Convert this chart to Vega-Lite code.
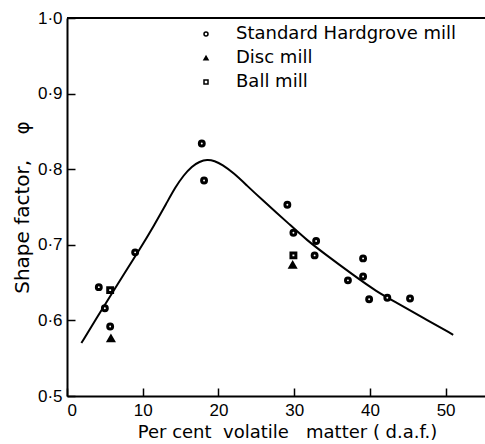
{
  "$schema": "https://vega.github.io/schema/vega-lite/v6.json",
  "width": 418,
  "height": 378,
  "autosize": "none",
  "padding": {"left": 67, "top": 18, "right": 0, "bottom": 48},
  "background": "white",
  "config": {
    "view": {"stroke": null},
    "font": "DejaVu Sans",
    "axis": {
      "domainColor": "black", "domainWidth": 2, "tickColor": "black", "tickWidth": 1.5,
      "labelColor": "black", "titleColor": "black", "labelFont": "Liberation Sans",
      "titleFont": "DejaVu Sans", "labelFontSize": 17, "titleFontWeight": "normal", "grid": false
    }
  },
  "datasets": {
    "pts": [
      {"vm": 4.2, "phi": 0.644, "mill": "Standard Hardgrove mill"},
      {"vm": 5.0, "phi": 0.616, "mill": "Standard Hardgrove mill"},
      {"vm": 5.7, "phi": 0.592, "mill": "Standard Hardgrove mill"},
      {"vm": 9.0, "phi": 0.690, "mill": "Standard Hardgrove mill"},
      {"vm": 17.8, "phi": 0.834, "mill": "Standard Hardgrove mill"},
      {"vm": 18.1, "phi": 0.785, "mill": "Standard Hardgrove mill"},
      {"vm": 29.1, "phi": 0.753, "mill": "Standard Hardgrove mill"},
      {"vm": 29.9, "phi": 0.716, "mill": "Standard Hardgrove mill"},
      {"vm": 32.9, "phi": 0.705, "mill": "Standard Hardgrove mill"},
      {"vm": 32.7, "phi": 0.686, "mill": "Standard Hardgrove mill"},
      {"vm": 37.1, "phi": 0.653, "mill": "Standard Hardgrove mill"},
      {"vm": 39.1, "phi": 0.682, "mill": "Standard Hardgrove mill"},
      {"vm": 39.1, "phi": 0.658, "mill": "Standard Hardgrove mill"},
      {"vm": 39.9, "phi": 0.628, "mill": "Standard Hardgrove mill"},
      {"vm": 42.3, "phi": 0.630, "mill": "Standard Hardgrove mill"},
      {"vm": 45.3, "phi": 0.629, "mill": "Standard Hardgrove mill"},
      {"vm": 5.8, "phi": 0.576, "mill": "Disc mill"},
      {"vm": 29.8, "phi": 0.673, "mill": "Disc mill"},
      {"vm": 5.7, "phi": 0.640, "mill": "Ball mill"},
      {"vm": 29.9, "phi": 0.686, "mill": "Ball mill"}
    ],
    "curve": [
      {"vm": 1.9, "phi": 0.570},
      {"vm": 3.9, "phi": 0.603},
      {"vm": 6.5, "phi": 0.645},
      {"vm": 9.85, "phi": 0.698},
      {"vm": 11.4, "phi": 0.724},
      {"vm": 13.2, "phi": 0.756},
      {"vm": 14.3, "phi": 0.776},
      {"vm": 15.4, "phi": 0.792},
      {"vm": 16.5, "phi": 0.804},
      {"vm": 17.5, "phi": 0.810},
      {"vm": 18.5, "phi": 0.813},
      {"vm": 19.5, "phi": 0.811},
      {"vm": 20.5, "phi": 0.806},
      {"vm": 22.0, "phi": 0.795},
      {"vm": 23.7, "phi": 0.779},
      {"vm": 25.5, "phi": 0.762},
      {"vm": 29.5, "phi": 0.726},
      {"vm": 31.7, "phi": 0.706},
      {"vm": 33.9, "phi": 0.689},
      {"vm": 37.8, "phi": 0.660},
      {"vm": 40.9, "phi": 0.638},
      {"vm": 43.6, "phi": 0.623},
      {"vm": 47.1, "phi": 0.603},
      {"vm": 51.0, "phi": 0.581}
    ],
    "top": [{"phi": 1.0}]
  },
  "layer": [
    {
      "data": {"name": "top"},
      "mark": {"type": "rule", "color": "black", "strokeWidth": 2},
      "encoding": {"y": {"field": "phi", "type": "quantitative", "scale": {"domain": [0.5, 1.0]}}}
    },
    {
      "data": {"name": "curve"},
      "mark": {"type": "line", "color": "black", "strokeWidth": 2, "interpolate": "basis"},
      "encoding": {
        "x": {"field": "vm", "type": "quantitative"},
        "y": {"field": "phi", "type": "quantitative"}
      }
    },
    {
      "data": {"name": "pts"},
      "mark": {"type": "point", "stroke": "black", "strokeWidth": 3, "size": 24, "opacity": 1},
      "encoding": {
        "x": {
          "field": "vm", "type": "quantitative",
          "scale": {"domain": [0, 55.2], "nice": false, "zero": false},
          "axis": {"values": [0, 10, 20, 30, 40, 50], "tickSize": -8, "labelPadding": 14, "title": "Per cent\u00a0 volatile\u00a0\u00a0 matter ( d.a.f.)", "titleFontSize": 18, "titleX": 220, "titlePadding": 5}
        },
        "y": {
          "field": "phi", "type": "quantitative",
          "scale": {"domain": [0.5, 1.0], "nice": false, "zero": false},
          "axis": {"values": [0.5, 0.6, 0.7, 0.8, 0.9, 1.0], "tickSize": -8, "labelPadding": 13, "labelExpr": "replace(format(datum.value, '.1f'), '.', '·')", "title": "Shape factor,\u00a0\u00a0\u00a0 φ", "titleFontSize": 20, "titlePadding": 5}
        },
        "shape": {
          "field": "mill", "type": "nominal",
          "scale": {"domain": ["Standard Hardgrove mill", "Disc mill", "Ball mill"], "range": ["circle", "triangle-up", "square"]},
          "legend": {"orient": "none", "legendX": 130, "legendY": 7, "title": null, "labelFontSize": 18, "labelColor": "black", "labelFont": "DejaVu Sans", "labelLimit": 400, "symbolSize": 16, "labelOffset": 21, "rowPadding": 6, "padding": 0,
            "encode": {"symbols": {"update": {"stroke": {"value": "black"}, "strokeWidth": {"value": 2.5}}}}}
        },
        "fill": {
          "field": "mill", "type": "nominal",
          "scale": {"domain": ["Standard Hardgrove mill", "Disc mill", "Ball mill"], "range": ["white", "black", "white"]},
          "legend": null
        }
      }
    }
  ]
}
